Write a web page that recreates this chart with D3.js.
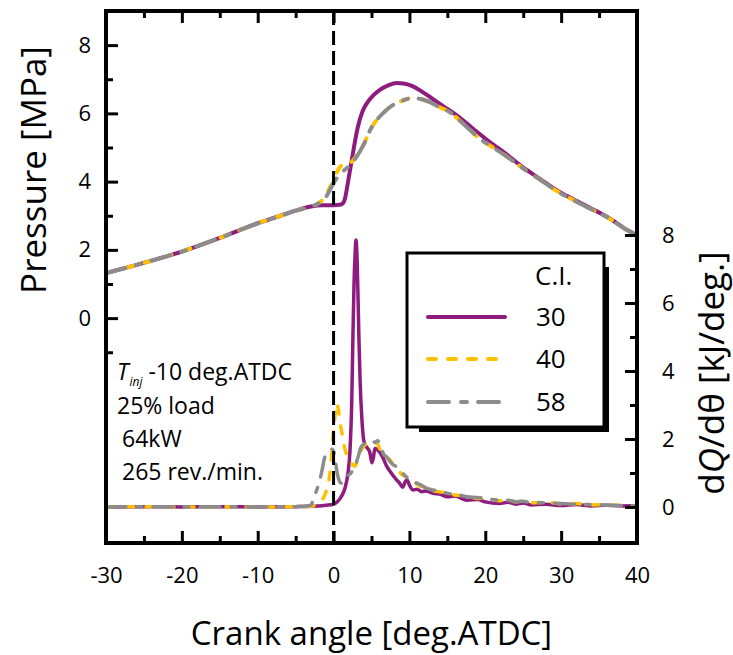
<!DOCTYPE html>
<html><head><meta charset="utf-8">
<script src="https://cdn.jsdelivr.net/npm/d3@7"></script>
<style>
body{margin:0;background:#fff}
text{font-family:'Open Sans',sans-serif;fill:#000}
</style>
</head><body>
<svg id="c" width="733" height="655"></svg>
<script>
// ---------- DATA ----------
const seriesNames = ["30", "40", "58"];
const seriesColors = ["#8E1B7E", "#FFC000", "#8C8C8C"];

// Pressure [MPa] vs crank angle
const pAngle30 = [-30,-25,-20,-15,-10,-7,-5,-3,-1.5,0,0.8,1.2,1.5,1.8,2.1,2.4,2.8,3.2,3.8,4.4,5.2,6.1,7.2,8.3,9.4,10.4,11.5,12.7,14.4,16.2,18.4,20.6,22.8,24.9,27.2,29.4,31.6,33.8,36.2,38.6,40];
const pressure30 = [1.32,1.62,1.95,2.35,2.78,3.0,3.15,3.27,3.31,3.31,3.32,3.36,3.5,3.85,4.25,4.63,5.15,5.6,6.05,6.3,6.52,6.69,6.82,6.89,6.87,6.8,6.66,6.48,6.22,5.95,5.55,5.16,4.8,4.43,4.08,3.75,3.48,3.23,2.95,2.6,2.43];

const pAngle40 = [-30,-25,-20,-15,-10,-7,-5,-3,-2,-1,-0.5,0,0.5,1.2,2.0,3.0,4.0,4.8,5.6,6.5,7.4,8.3,9.4,10.4,11.5,12.7,14.0,15.3,16.6,18.0,19.3,20.6,22.8,24.9,27.2,29.4,31.6,33.8,36.2,38.6,40];
const pressure40 = [1.32,1.62,1.95,2.35,2.78,3.0,3.15,3.27,3.36,3.6,3.82,4.02,4.3,4.5,4.52,4.75,5.1,5.5,5.78,6.0,6.18,6.3,6.4,6.45,6.42,6.33,6.18,6.04,5.8,5.51,5.25,5.06,4.74,4.4,4.06,3.73,3.46,3.21,2.94,2.59,2.42];

const pAngle58 = [-30,-25,-20,-15,-10,-7,-5,-3,-2,-1,-0.5,0,1.0,2.0,3.0,4.0,4.8,5.6,6.5,7.4,8.3,9.4,10.4,11.5,12.7,14.0,15.3,16.6,18.0,19.3,20.6,22.8,24.9,27.2,29.4,31.6,33.8,36.2,38.6,40];
const pressure58 = [1.32,1.62,1.95,2.35,2.78,3.0,3.15,3.27,3.36,3.55,3.75,3.96,4.25,4.45,4.72,5.1,5.5,5.78,6.0,6.18,6.3,6.4,6.45,6.42,6.33,6.18,6.04,5.8,5.51,5.25,5.06,4.74,4.4,4.06,3.73,3.46,3.21,2.94,2.59,2.42];

// Heat release rate dQ/dθ [kJ/deg.] vs crank angle
const qAngle30 = [-30,-25,-20,-15,-10,-5,-2,-1,0,0.5,1.0,1.5,1.9,2.15,2.4,2.55,2.7,2.85,2.95,3.05,3.2,3.35,3.5,3.73,3.95,4.12,4.4,4.78,5.05,5.25,5.44,5.7,6.1,6.5,7.0,7.6,8.3,8.7,9.1,9.4,9.66,10.05,10.45,11,11.6,12.2,13.1,14,15,16,17.6,19,20,21.9,23,24,25,26,28,30,32,34,36,38,40];
const dq30 = [0,0.01,0,0.01,0,0.01,0.03,0.05,0.08,0.15,0.3,0.55,1.0,1.6,3.15,5.0,6.6,7.5,7.85,7.6,6.4,4.9,3.7,2.6,2.0,1.85,1.75,1.6,1.3,1.45,1.72,1.7,1.6,1.45,1.2,1.0,0.8,0.7,0.58,0.72,0.8,0.62,0.5,0.52,0.45,0.47,0.4,0.38,0.3,0.32,0.2,0.22,0.15,0.1,0.14,0.08,0.12,0.06,0.08,0.04,0.07,0.03,0.05,0.03,0.04];

const qAngle40 = [-30,-25,-20,-15,-10,-5,-3,-2,-1.5,-1.0,-0.6,-0.3,-0.1,0.2,0.43,0.6,0.83,1.0,1.23,1.5,1.8,2.15,2.5,2.81,3.2,3.5,3.86,4.3,4.8,5.3,5.7,6.1,6.5,7.0,7.4,8.0,8.5,9.0,9.5,10.0,10.8,11.5,12.3,13.1,14,15,16,17.6,19,20,21.9,23,24,25,26,28,30,32,34,36,38,40];
const dq40 = [0,0.01,0,0.01,0,0.01,0.02,0.08,0.2,0.45,0.8,1.4,2.0,2.7,3.05,2.9,2.55,2.3,2.0,1.7,1.5,1.4,1.25,1.2,1.4,1.6,1.75,1.85,1.9,1.85,1.9,1.7,1.55,1.45,1.4,1.2,1.1,0.95,0.9,0.75,0.7,0.6,0.58,0.48,0.45,0.42,0.35,0.32,0.25,0.27,0.18,0.2,0.15,0.18,0.12,0.14,0.09,0.1,0.06,0.07,0.04,0.03];

const qAngle58 = [-30,-25,-20,-15,-10,-5,-4,-3,-2.7,-2.3,-1.8,-1.5,-1.15,-0.8,-0.5,-0.2,0.1,0.4,0.7,1.0,1.4,1.8,2.3,2.8,3.2,3.6,4.0,4.5,5.0,5.5,5.8,6.2,6.6,7.0,7.4,7.8,8.3,8.8,9.3,10.0,10.8,11.5,12.3,13.1,14,15,16,17.6,19,20,21.9,23,24,25,26,28,30,32,34,36,38,40];
const dq58 = [0,0.01,0,0.01,0,0.01,0.02,0.05,0.2,0.45,0.8,1.1,1.47,1.55,1.6,1.7,1.55,1.1,0.8,0.7,0.75,0.9,1.0,1.2,1.45,1.75,1.85,1.9,1.95,1.9,1.95,1.8,1.55,1.47,1.35,1.25,1.18,1.05,0.95,0.8,0.72,0.65,0.55,0.5,0.48,0.4,0.38,0.3,0.28,0.25,0.2,0.2,0.15,0.17,0.13,0.12,0.1,0.08,0.07,0.05,0.04,0.03];

const xTicksMajor = [-30,-20,-10,0,10,20,30,40];
const xTicksMinor = [-25,-15,-5,5,15,25,35];
const pTicksMajor = [0,2,4,6,8];
const pTicksMinor = [-1,1,3,5,7];
const qTicksMajor = [0,2,4,6,8];
const qTicksMinor = [1,3,5,7];

// ---------- LAYOUT ----------
const L = 106, R = 637, T = 11, B = 543;
const svg = d3.select("#c");
const x = d3.scaleLinear().domain([-30, 40]).range([L, R]);
const yP = d3.scaleLinear().domain([-6.59, 9.0]).range([B, T]);
const yQ = d3.scaleLinear().domain([-1.06, 14.59]).range([B, T]);
const fmt = d => String(d);

svg.append("defs").append("clipPath").attr("id", "clip")
  .append("rect").attr("x", L).attr("y", T).attr("width", R - L).attr("height", B - T);

const dashes = [null, "8,12", "20,11,5,11"];

const plot = svg.append("g").attr("clip-path", "url(#clip)");

function drawSeries(ang, vals, yScale, i, w) {
  const data = ang.map((a, k) => [a, vals[k]]);
  const line = d3.line().x(d => x(d[0])).y(d => yScale(d[1])).curve(d3.curveMonotoneX);
  plot.append("path").datum(data).attr("d", line)
    .attr("fill", "none").attr("stroke", seriesColors[i]).attr("stroke-width", w)
    .attr("stroke-linecap", "round").attr("stroke-linejoin", "round")
    .attr("stroke-dasharray", dashes[i]);
}
// heat release
drawSeries(qAngle30, dq30, yQ, 0, 3.5);
drawSeries(qAngle40, dq40, yQ, 1, 3.5);
drawSeries(qAngle58, dq58, yQ, 2, 3.5);
// pressure
drawSeries(pAngle30, pressure30, yP, 0, 4);
drawSeries(pAngle40, pressure40, yP, 1, 4);
drawSeries(pAngle58, pressure58, yP, 2, 4);

// TDC dashed line
svg.append("line").attr("x1", x(0)).attr("x2", x(0)).attr("y1", T).attr("y2", B)
  .attr("stroke", "#000").attr("stroke-width", 3).attr("stroke-dasharray", "14,6");

// ---------- AXES ----------
function styleAxis(g) {
  g.select(".domain").remove();
  g.selectAll(".tick line").attr("stroke", "#000").attr("stroke-width", 3);
  g.selectAll(".tick text").attr("font-size", 22).attr("fill", "#000")
    .attr("font-family", "'Open Sans',sans-serif");
}
svg.append("g").attr("transform", `translate(0,${B})`)
  .call(d3.axisBottom(x).tickValues(xTicksMajor).tickFormat(fmt).tickSizeInner(-12).tickSizeOuter(0).tickPadding(24))
  .call(styleAxis);
svg.append("g").attr("transform", `translate(0,${B})`)
  .call(d3.axisBottom(x).tickValues(xTicksMinor).tickFormat("").tickSizeInner(-7).tickSizeOuter(0))
  .call(styleAxis);
svg.append("g").attr("transform", `translate(0,${T})`)
  .call(d3.axisTop(x).tickValues(xTicksMajor).tickFormat("").tickSizeInner(-12).tickSizeOuter(0))
  .call(styleAxis);
svg.append("g").attr("transform", `translate(0,${T})`)
  .call(d3.axisTop(x).tickValues(xTicksMinor).tickFormat("").tickSizeInner(-7).tickSizeOuter(0))
  .call(styleAxis);
svg.append("g").attr("transform", `translate(${L},0)`)
  .call(d3.axisLeft(yP).tickValues(pTicksMajor).tickFormat(fmt).tickSizeInner(-12).tickSizeOuter(0).tickPadding(15))
  .call(styleAxis);
svg.append("g").attr("transform", `translate(${L},0)`)
  .call(d3.axisLeft(yP).tickValues(pTicksMinor).tickFormat("").tickSizeInner(-7).tickSizeOuter(0))
  .call(styleAxis);
svg.append("g").attr("transform", `translate(${R},0)`)
  .call(d3.axisRight(yQ).tickValues(qTicksMajor).tickFormat(fmt).tickSizeInner(-12).tickSizeOuter(0).tickPadding(25))
  .call(styleAxis);
svg.append("g").attr("transform", `translate(${R},0)`)
  .call(d3.axisRight(yQ).tickValues(qTicksMinor).tickFormat("").tickSizeInner(-7).tickSizeOuter(0))
  .call(styleAxis);

// frame
svg.append("rect").attr("x", L).attr("y", T).attr("width", R - L).attr("height", B - T)
  .attr("fill", "none").attr("stroke", "#000").attr("stroke-width", 4);

// ---------- TITLES ----------
svg.append("text").attr("x", (L + R) / 2).attr("y", 645).attr("text-anchor", "middle")
  .attr("font-size", 33).text("Crank angle [deg.ATDC]");
svg.append("text").attr("transform", "translate(46,170) rotate(-90)").attr("text-anchor", "middle")
  .attr("font-size", 35).text("Pressure [MPa]");
const rt = svg.append("text").attr("transform", "translate(724,373) rotate(-90)").attr("text-anchor", "middle")
  .attr("font-size", 35);
rt.append("tspan").text("d");
rt.append("tspan").attr("font-style", "italic").text("Q");
rt.append("tspan").text("/d\u03B8 [kJ/deg.]");

// ---------- ANNOTATION ----------
const ann = svg.append("g").attr("font-size", 23);
const a1 = ann.append("text").attr("x", 117).attr("y", 380).attr("font-size", 23);
a1.append("tspan").attr("font-style", "italic").text("T");
a1.append("tspan").attr("font-style", "italic").attr("font-size", 12).attr("dy", 6).attr("dx", 1).text("inj");
a1.append("tspan").attr("dy", -6).text(" -10 deg.ATDC");
ann.append("text").attr("x", 117).attr("y", 414).attr("font-size", 23).text("25% load");
ann.append("text").attr("x", 122).attr("y", 447).attr("font-size", 23).text("64kW");
ann.append("text").attr("x", 122).attr("y", 480).attr("font-size", 23).text("265 rev./min.");

// ---------- LEGEND ----------
const lg = { x: 407, y: 253, w: 197, h: 174 };
svg.append("rect").attr("x", lg.x + 12).attr("y", lg.y + 14).attr("width", lg.w - 7).attr("height", lg.h - 9)
  .attr("fill", "#000");
svg.append("rect").attr("x", lg.x).attr("y", lg.y).attr("width", lg.w).attr("height", lg.h)
  .attr("fill", "#fff").attr("stroke", "#000").attr("stroke-width", 3);
svg.append("text").attr("x", 535).attr("y", 285).attr("font-size", 26).text("C.I.");
const legY = [317, 359, 402];
seriesNames.forEach((n, i) => {
  svg.append("line").attr("x1", 428).attr("x2", 505).attr("y1", legY[i]).attr("y2", legY[i])
    .attr("stroke", seriesColors[i]).attr("stroke-width", 4).attr("stroke-linecap", "round")
    .attr("stroke-dasharray", dashes[i] === null ? null : (i === 1 ? "8,12" : "21,12,6,11"));
  svg.append("text").attr("x", 536).attr("y", legY[i] + 9).attr("font-size", 26).text(n);
});
</script>
</body></html>
